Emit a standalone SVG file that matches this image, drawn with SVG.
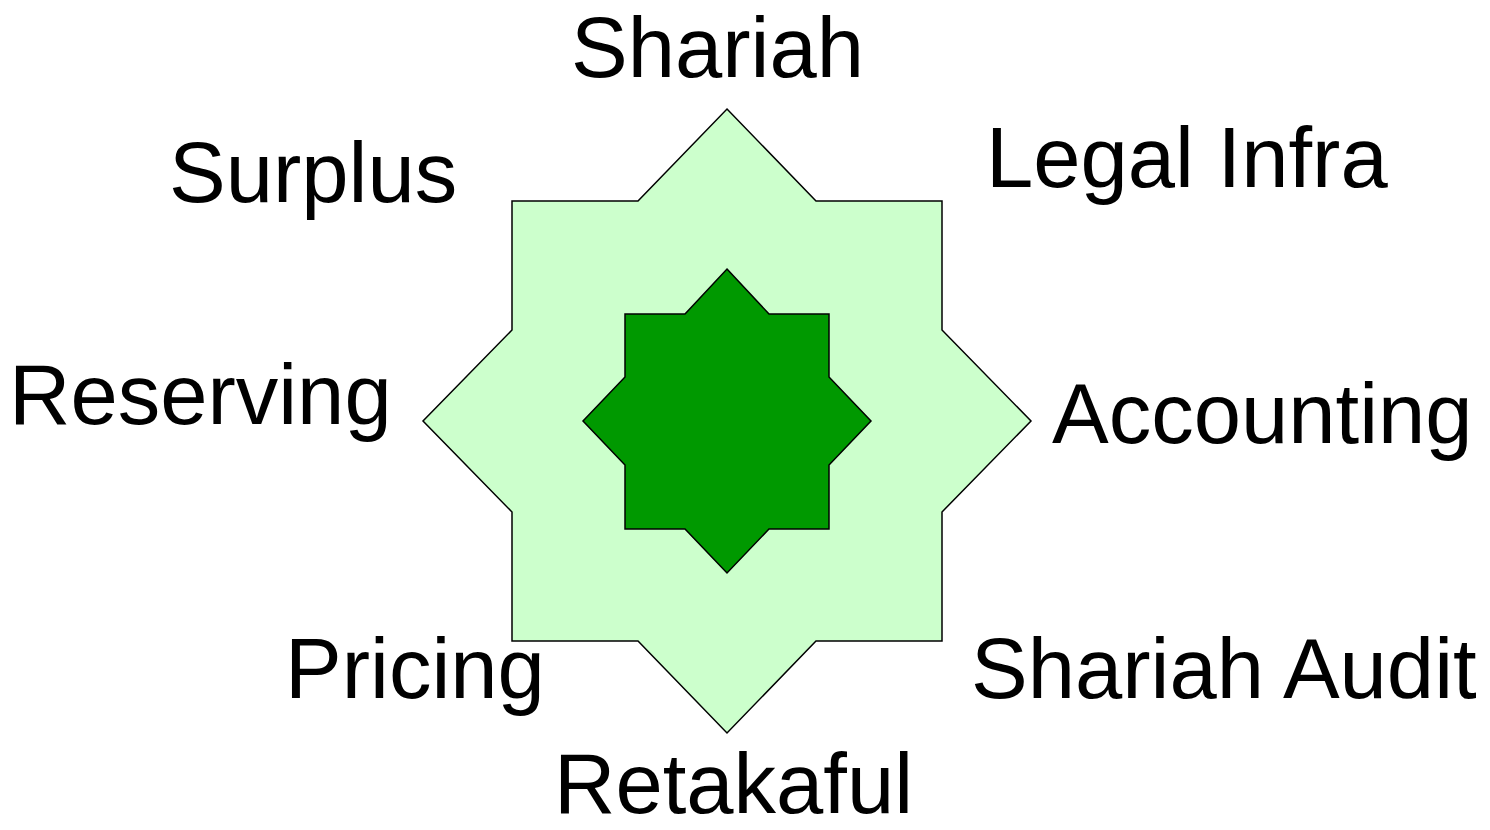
<svg xmlns="http://www.w3.org/2000/svg" width="1490" height="830" viewBox="0 0 1490 830">
<style>
.lbl{font-family:"Liberation Sans",Arial,sans-serif;font-size:85px;fill:#000}
.outer{fill:#ccffcc;stroke:#000;stroke-width:1.5}
.inner{fill:#009900;stroke:#000;stroke-width:1.5}
</style>
<rect width="1490" height="830" fill="#fff"/>
<g id="outer-star">
<polygon class="outer" points="727,109 816,201 942,201 942,330 1031,421 942,512 942,641 816,641 727,733 638,641 512,641 512,512 423,421 512,330 512,201 638,201"/>
</g>
<g id="inner-star">
<polygon class="inner" points="727,269 769,314 829,314 829,377 871,421 829,465 829,529 769,529 727,573 685,529 625,529 625,465 583,421 625,377 625,314 685,314"/>
</g>
<g id="connectors"></g>
<g id="label-shariah"><text class="lbl" x="571" y="77">Shariah</text></g>
<g id="label-legal"><text class="lbl" x="986" y="187">Legal Infra</text></g>
<g id="label-surplus"><text class="lbl" x="169" y="202">Surplus</text></g>
<g id="label-reserving"><text class="lbl" x="9" y="424">Reserving</text></g>
<g id="label-accounting"><text class="lbl" x="1052" y="443">Accounting</text></g>
<g id="label-pricing"><text class="lbl" x="285" y="698">Pricing</text></g>
<g id="label-audit"><text class="lbl" x="971" y="698">Shariah Audit</text></g>
<g id="label-retakaful"><text class="lbl" x="554" y="813">Retakaful</text></g>
</svg>
